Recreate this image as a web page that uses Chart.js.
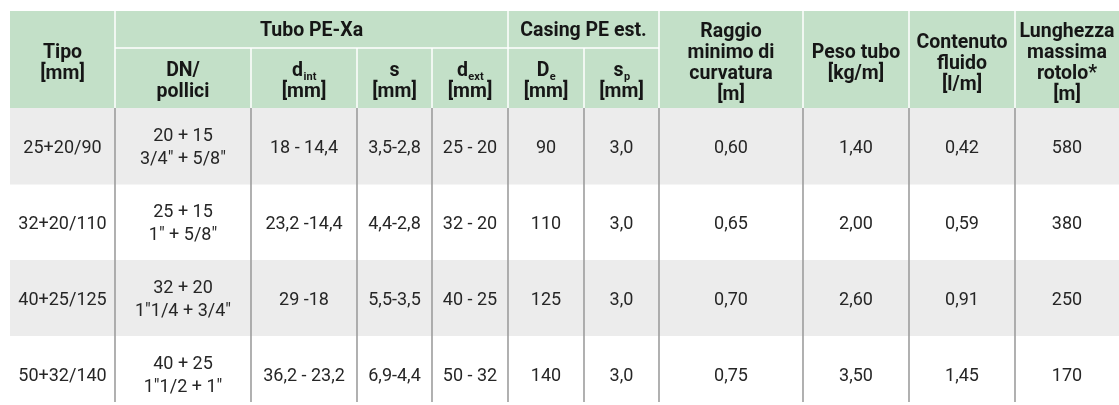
<!DOCTYPE html>
<html>
<head>
<meta charset="utf-8">
<script src="https://cdn.jsdelivr.net/npm/chart.js@4/dist/chart.umd.min.js"></script>
<style>
  html, body { margin: 0; padding: 0; background: #ffffff; }
  #wrap { width: 1119px; height: 405px; position: relative; }
</style>
</head>
<body>
<div id="wrap"><canvas id="c"></canvas></div>
<script>
// ---------------- DATA ----------------
const groupTitles = ['Tubo PE-Xa', 'Casing PE est.'];
const columnTitles = [
  ['Tipo', '[mm]'],
  ['DN/', 'pollici'],
  [['d', 'int'], '[mm]'],
  ['s', '[mm]'],
  [['d', 'ext'], '[mm]'],
  [['D', 'e'], '[mm]'],
  [['s', 'p'], '[mm]'],
  ['Raggio', 'minimo di', 'curvatura', '[m]'],
  ['Peso tubo', '[kg/m]'],
  ['Contenuto', 'fluido', '[l/m]'],
  ['Lunghezza', 'massima', 'rotolo*', '[m]']
];
const tipo = ['25+20/90', '32+20/110', '40+25/125', '50+32/140'];
const dnMm = ['20 + 15', '25 + 15', '32 + 20', '40 + 25'];
const dnInch = ['3/4" + 5/8"', '1" + 5/8"', '1"1/4 + 3/4"', '1"1/2 + 1"'];
const dInt = ['18 - 14,4', '23,2 -14,4', '29 -18', '36,2 - 23,2'];
const sThickness = ['3,5-2,8', '4,4-2,8', '5,5-3,5', '6,9-4,4'];
const dExt = ['25 - 20', '32 - 20', '40 - 25', '50 - 32'];
const casingDe = [90, 110, 125, 140];
const casingSp = [3.0, 3.0, 3.0, 3.0];
const raggioMin = [0.60, 0.65, 0.70, 0.75];
const pesoTubo = [1.40, 2.00, 2.60, 3.50];
const contenutoFluido = [0.42, 0.59, 0.91, 1.45];
const lunghezzaRotolo = [580, 380, 250, 170];

// ---------------- LAYOUT (scale units) ----------------
const tableLeft = 10;
const colWidths = [105, 136, 106, 75, 76, 76, 75, 144, 106, 106, 104];
const headerTop = 11, headerSplit = 48, headerBottom = 108;
const rowEdges = [108, 184.5, 260, 336, 412];
const linesBottom = 402;
const groupSpans = [[1, 4], [5, 6]];
const fullSpanCols = [0, 7, 8, 9, 10];

const colEdges = [tableLeft];
colWidths.forEach(w => colEdges.push(colEdges[colEdges.length - 1] + w));

const fmt = (v, d) => v.toFixed(d).replace('.', ',');
const bodyColumns = [
  tipo,
  dnMm.map((v, i) => [v, dnInch[i]]),
  dInt,
  sThickness,
  dExt,
  casingDe.map(v => String(v)),
  casingSp.map(v => fmt(v, 1)),
  raggioMin.map(v => fmt(v, 2)),
  pesoTubo.map(v => fmt(v, 2)),
  contenutoFluido.map(v => fmt(v, 2)),
  lunghezzaRotolo.map(v => String(v))
];

// ---------------- STYLE ----------------
const GREEN = '#c3e0c8';
const STRIPE = '#ececec';
const SEP = '#9d9d9d';
const HFONT = 'Roboto, "Noto Sans", sans-serif';
const HSIZE = 19.5, HLINE = 21;
const BSIZE = 18, BLINE = 23;

const tablePlugin = {
  id: 'tablePlugin',
  beforeDatasetsDraw(chart) {
    const ctx = chart.ctx;
    const xs = chart.scales.x, ys = chart.scales.y;
    const X = v => xs.getPixelForValue(v);
    const Y = v => ys.getPixelForValue(v);
    const nCols = colWidths.length;
    const left = X(colEdges[0]), right = X(colEdges[nCols]);
    ctx.save();

    // header background
    ctx.fillStyle = GREEN;
    ctx.fillRect(left, Y(headerTop), right - left, Y(headerBottom) - Y(headerTop));

    // body stripes
    for (let r = 0; r < tipo.length; r++) {
      if (r % 2 === 0) {
        ctx.fillStyle = STRIPE;
        ctx.fillRect(left, Y(rowEdges[r]), right - left, Y(rowEdges[r + 1]) - Y(rowEdges[r]));
      }
    }

    // header white separators
    ctx.strokeStyle = '#ffffff';
    ctx.lineWidth = 1.5;
    for (let c = 1; c < nCols; c++) {
      const inside = groupSpans.some(([a, b]) => c > a && c <= b);
      ctx.beginPath();
      ctx.moveTo(X(colEdges[c]), Y(inside ? headerSplit : headerTop));
      ctx.lineTo(X(colEdges[c]), Y(headerBottom));
      ctx.stroke();
    }
    groupSpans.forEach(([a, b]) => {
      ctx.beginPath();
      ctx.moveTo(X(colEdges[a]), Y(headerSplit));
      ctx.lineTo(X(colEdges[b + 1]), Y(headerSplit));
      ctx.stroke();
    });

    // body gray separators
    ctx.strokeStyle = SEP;
    ctx.lineWidth = 1.6;
    for (let c = 1; c < nCols; c++) {
      ctx.beginPath();
      ctx.moveTo(X(colEdges[c]), Y(headerBottom));
      ctx.lineTo(X(colEdges[c]), Y(linesBottom));
      ctx.stroke();
    }

    ctx.textAlign = 'center';
    ctx.textBaseline = 'middle';

    const drawLine = (item, cx, cy, size, weight, color) => {
      ctx.fillStyle = color;
      if (Array.isArray(item)) {
        const [main, sub] = item;
        const subSize = Math.round(size * 0.55);
        ctx.font = weight + ' ' + size + 'px ' + HFONT;
        const mw = ctx.measureText(main).width;
        ctx.font = weight + ' ' + subSize + 'px ' + HFONT;
        const sw = ctx.measureText(sub).width;
        const x0 = cx - (mw + sw) / 2;
        ctx.textAlign = 'left';
        ctx.font = weight + ' ' + size + 'px ' + HFONT;
        ctx.fillText(main, x0, cy);
        ctx.font = weight + ' ' + subSize + 'px ' + HFONT;
        ctx.fillText(sub, x0 + mw + 0.5, cy + size * 0.33);
        ctx.textAlign = 'center';
      } else {
        ctx.font = weight + ' ' + size + 'px ' + HFONT;
        ctx.fillText(item, cx, cy);
      }
    };
    const drawCell = (lines, c0, c1, yTop, yBot, size, lh, weight, color, dy) => {
      const cx = (X(colEdges[c0]) + X(colEdges[c1 + 1])) / 2;
      const cy = (Y(yTop) + Y(yBot)) / 2 + dy;
      const list = Array.isArray(lines) ? lines : [lines];
      const n = list.length;
      list.forEach((ln, i) => {
        drawLine(ln, cx, cy + (i - (n - 1) / 2) * lh, size, weight, color);
      });
    };

    // header texts
    const HCOL = '#161616';
    fullSpanCols.forEach(c => drawCell(columnTitles[c], c, c, headerTop, headerBottom, HSIZE, HLINE, 'bold', HCOL, 4.5));
    groupSpans.forEach(([a, b], g) => drawCell([groupTitles[g]], a, b, headerTop, headerSplit, HSIZE, HLINE, 'bold', HCOL, 1.5));
    for (let c = 1; c <= 6; c++) {
      drawCell(columnTitles[c], c, c, headerSplit, headerBottom, HSIZE, HLINE, 'bold', HCOL, 3.5);
    }

    // body texts
    const BCOL = '#262626';
    bodyColumns.forEach((col, c) => {
      col.forEach((val, r) => {
        const lines = Array.isArray(val) ? val : [val];
        drawCell(lines, c, c, rowEdges[r], rowEdges[r + 1], BSIZE, BLINE, 'normal', BCOL, 2);
      });
    });
    ctx.restore();
  }
};

new Chart(document.getElementById('c'), {
  type: 'scatter',
  data: { datasets: [{ data: [], pointRadius: 0 }] },
  options: {
    responsive: true,
    maintainAspectRatio: false,
    animation: false,
    events: [],
    layout: { padding: 0 },
    plugins: { legend: { display: false }, tooltip: { enabled: false } },
    scales: {
      x: { type: 'linear', min: 0, max: 1119, display: false },
      y: { type: 'linear', min: 0, max: 405, reverse: true, display: false }
    }
  },
  plugins: [tablePlugin]
});
</script>
</body>
</html>
